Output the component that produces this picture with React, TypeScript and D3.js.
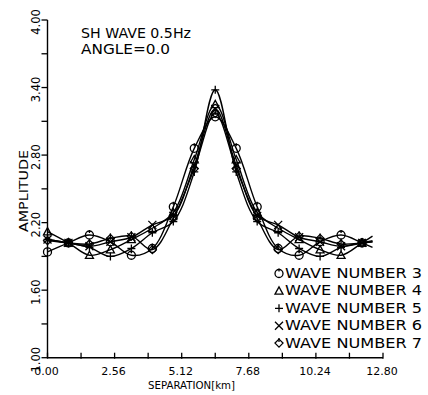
import React from "react";
import * as d3 from "d3";

const SEPARATION = [0, 0.8, 1.6, 2.4, 3.2, 4.0, 4.8, 5.6, 6.4, 7.2, 8.0, 8.8, 9.6, 10.4, 11.2, 12.0, 12.4];
const WAVE3 = [1.94, 2.02, 2.09, 2.03, 1.91, 1.97, 2.34, 2.86, 3.14, 2.86, 2.34, 1.97, 1.91, 2.03, 2.09, 2.02, 1.98];
const WAVE4 = [2.12, 2.02, 1.91, 1.96, 2.05, 2.15, 2.29, 2.76, 3.25, 2.76, 2.29, 2.15, 2.05, 1.96, 1.91, 2.02, 2.08];
const WAVE5 = [2.05, 2.02, 1.98, 1.9, 1.97, 2.11, 2.21, 2.65, 3.38, 2.65, 2.21, 2.11, 1.97, 1.9, 1.98, 2.02, 2.03];
const WAVE6 = [2.05, 2.02, 1.99, 2.03, 2.07, 2.18, 2.26, 2.71, 3.21, 2.71, 2.26, 2.18, 2.07, 2.03, 1.99, 2.02, 2.04];
const WAVE7 = [2.04, 2.02, 2.01, 2.06, 2.08, 1.96, 2.24, 2.68, 3.17, 2.68, 2.24, 1.96, 2.08, 2.06, 2.01, 2.02, 2.03];

const SERIES_NAMES = ["WAVE NUMBER 3", "WAVE NUMBER 4", "WAVE NUMBER 5", "WAVE NUMBER 6", "WAVE NUMBER 7"];
const SERIES_SYMBOLS = ["circle", "triangle", "plus", "cross", "diamond"];
const SERIES_VALUES = [WAVE3, WAVE4, WAVE5, WAVE6, WAVE7];

const X_TICKS = [0, 2.56, 5.12, 7.68, 10.24, 12.8];
const X_MINOR = [1.28, 3.84, 6.4, 8.96, 11.52];
const Y_TICKS = [1.0, 1.6, 2.2, 2.8, 3.4, 4.0];
const Y_MINOR = [1.3, 1.9, 2.5, 3.1, 3.7];

const FONT = "'DejaVu Sans', sans-serif";

function Symbol({ type, x, y }: { type: string; x: number; y: number }) {
  const s = 4;
  const common = { fill: "none", stroke: "#000", strokeWidth: 1.3 };
  if (type === "circle")
    return (
      <g>
        <circle cx={x} cy={y} r={s} {...common} />
        <line x1={x} y1={y - s - 1} x2={x} y2={y - s + 2} {...common} />
      </g>
    );
  if (type === "triangle")
    return <path d={`M${x},${y - s}L${x + s},${y + s * 0.8}L${x - s},${y + s * 0.8}Z`} {...common} />;
  if (type === "plus")
    return <path d={`M${x - s},${y}H${x + s}M${x},${y - s}V${y + s}`} {...common} />;
  if (type === "cross")
    return <path d={`M${x - s},${y - s}L${x + s},${y + s}M${x - s},${y + s}L${x + s},${y - s}`} {...common} />;
  return (
    <g>
      <path d={`M${x},${y - s}L${x + s},${y}L${x},${y + s}L${x - s},${y}Z`} {...common} />
      <line x1={x} y1={y - s - 1} x2={x} y2={y - 1} {...common} />
    </g>
  );
}

export default function App() {
  const x = d3.scaleLinear().domain([0, 12.8]).range([47.5, 383]);
  const y = d3.scaleLinear().domain([1, 4]).range([357.7, 20]);
  const line = d3
    .line<number>()
    .x((_, i) => x(SEPARATION[i]))
    .y((d) => y(d))
    .curve(d3.curveCatmullRom.alpha(0.5));

  const x0 = x(0);
  const y0 = y(1);

  return (
    <svg width={428} height={395} style={{ position: "absolute", left: 0, top: 0, background: "#fff" }}>
      <rect width={428} height={395} fill="#fff" />
      {/* axes */}
      <line x1={x0} y1={y(4)} x2={x0} y2={y0} stroke="#000" strokeWidth={1.4} />
      <line x1={x0} y1={y0} x2={x(12.8)} y2={y0} stroke="#000" strokeWidth={1.4} />
      {X_TICKS.concat(X_MINOR).map((t) => (
        <line key={"xt" + t} x1={x(t)} x2={x(t)} y1={y0 - 5} y2={y0 + 1} stroke="#000" strokeWidth={1.3} />
      ))}
      {Y_TICKS.concat(Y_MINOR).map((t) => (
        <line key={"yt" + t} x1={x0 - 6} x2={x0} y1={y(t)} y2={y(t)} stroke="#000" strokeWidth={1.3} />
      ))}
      {X_TICKS.map((t) => (
        <text key={"xl" + t} x={x(t) - 1} y={375} fontFamily={FONT} fontSize={11} textAnchor="middle">
          {t.toFixed(2)}
        </text>
      ))}
      {Y_TICKS.map((t) => (
        <text
          key={"yl" + t}
          transform={`translate(40,${y(t) + 2}) rotate(-90)`}
          fontFamily={FONT}
          fontSize={11.5}
          textAnchor="middle"
        >
          {t.toFixed(2)}
        </text>
      ))}
      <text x={148} y={389} fontFamily={FONT} fontSize={11} textLength={87} lengthAdjust="spacingAndGlyphs">
        SEPARATION[km]
      </text>
      <text
        transform={`translate(28,191) rotate(-90)`}
        fontFamily={FONT}
        fontSize={13}
        textAnchor="middle"
        textLength={82}
        lengthAdjust="spacingAndGlyphs"
      >
        AMPLITUDE
      </text>
      {/* title */}
      <text x={81} y={38} fontFamily={FONT} fontSize={13.5} textLength={110} lengthAdjust="spacingAndGlyphs">
        SH WAVE 0.5Hz
      </text>
      <text x={81} y={54} fontFamily={FONT} fontSize={13.5} textLength={89} lengthAdjust="spacingAndGlyphs">
        ANGLE=0.0
      </text>
      {/* series */}
      {SERIES_VALUES.map((vals, si) => (
        <g key={"s" + si}>
          <path d={line(vals) || ""} fill="none" stroke="#000" strokeWidth={1.4} />
          {vals.slice(0, vals.length - 1).map((v, i) => (
            <Symbol key={i} type={SERIES_SYMBOLS[si]} x={x(SEPARATION[i])} y={y(v)} />
          ))}
        </g>
      ))}
      {/* legend */}
      {SERIES_NAMES.map((n, i) => (
        <g key={"lg" + i}>
          <Symbol type={SERIES_SYMBOLS[i]} x={279} y={273.5 + i * 17.4} />
          <text
            x={285}
            y={278 + i * 17.4}
            fontFamily={FONT}
            fontSize={13.5}
            textLength={137}
            lengthAdjust="spacingAndGlyphs"
          >
            {n}
          </text>
        </g>
      ))}
    </svg>
  );
}
